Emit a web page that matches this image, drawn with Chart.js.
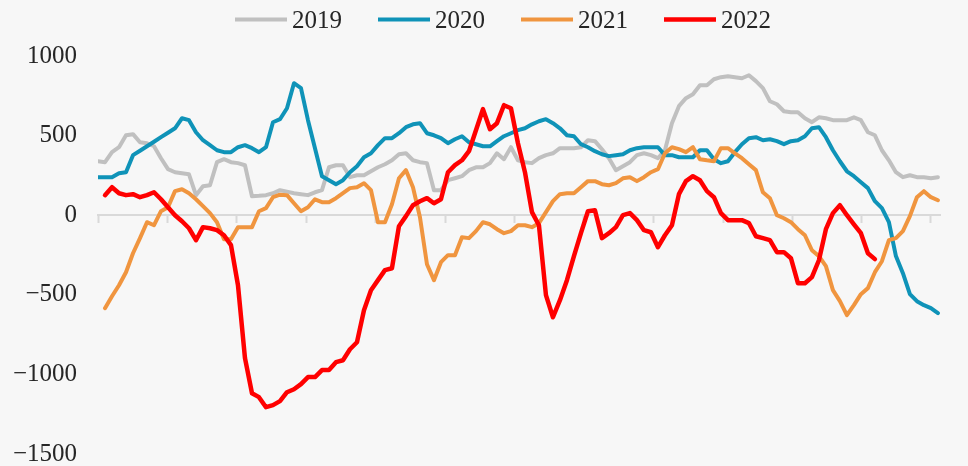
<!DOCTYPE html>
<html>
<head>
<meta charset="utf-8">
<script src="https://cdn.jsdelivr.net/npm/chart.js@4.4.1/dist/chart.umd.min.js"></script>
<style>
  html, body { margin: 0; padding: 0; background: #f7f7f7; overflow: hidden; }
  canvas { display: block; }
</style>
</head>
<body>
<canvas id="chart" width="968" height="466"></canvas>
<script>
// year series, sampled at regular intervals through the year
const years = ['2019', '2020', '2021', '2022'];
const colors = ['#c0c0c0', '#0f93b8', '#f0953f', '#ff0000'];
const widths = [4, 4, 4, 4.5];

// month boundaries, in sample units
const monthTicks = [0, 9.9, 19.8, 29.8, 39.7, 49.6, 59.5, 69.4, 79.3, 89.3, 99.2, 109.1, 119];

const v2019 = [339, 333, 396, 427, 502, 509, 458, 452, 433, 358,
  289, 270, 264, 257, 126, 182, 188, 333, 352, 333,
  327, 314, 119, 122, 126, 138, 157, 148, 138, 132,
  126, 144, 157, 301, 314, 314, 239, 251, 251, 276,
  301, 320, 345, 383, 389, 345, 333, 327, 157, 157,
  220, 232, 245, 283, 301, 301, 327, 389, 352, 427,
  345, 333, 327, 358, 377, 389, 421, 421, 421, 427,
  471, 465, 414, 358, 283, 308, 333, 377, 389, 377,
  358, 408, 578, 685, 735, 760, 816, 816, 854, 867,
  873, 867, 860, 879, 842, 798, 716, 697, 653, 647,
  647, 609, 584, 615, 609, 597, 597, 597, 615, 597,
  521, 502, 408, 345, 270, 239, 251, 239, 239, 232,
  239];

const v2020 = [239, 239, 239, 264, 270, 377, 405, 433, 461, 490,
  518, 546, 609, 597, 521, 471, 440, 408, 396, 396,
  427, 440, 421, 396, 427, 584, 603, 672, 829, 798,
  597, 421, 245, 220, 195, 220, 270, 308, 364, 389,
  440, 484, 484, 515, 553, 571, 578, 515, 502, 484,
  452, 477, 496, 458, 446, 433, 433, 465, 496, 515,
  534, 546, 571, 590, 603, 578, 546, 502, 496, 446,
  427, 402, 383, 371, 377, 383, 408, 421, 427, 427,
  427, 377, 377, 364, 364, 364, 408, 408, 352, 327,
  339, 396, 446, 484, 490, 471, 477, 465, 446, 465,
  471, 496, 546, 553, 490, 408, 339, 276, 245, 207,
  170, 88, 44, -44, -257, -364, -496, -540, -565, -584,
  -615];

const v2021 = [null, -584, -509, -440, -358, -239, -144, -44, -63, 25,
  50, 151, 163, 138, 100, 57, 13, -44, -151, -151,
  -75, -75, -75, 25, 44, 113, 129, 126, 75, 25,
  50, 100, 82, 82, 107, 138, 170, 176, 201, 157,
  -44, -44, 69, 232, 283, 176, -13, -308, -408, -295,
  -251, -251, -138, -144, -100, -44, -57, -88, -113, -100,
  -63, -63, -75, -50, 19, 88, 132, 138, 138, 176,
  214, 214, 195, 188, 201, 232, 239, 214, 239, 270,
  289, 389, 427, 415, 396, 427, 352, 345, 339, 421,
  421, 389, 358, 320, 283, 144, 107, 0, -19, -44,
  -88, -126, -220, -257, -320, -471, -540, -628, -565, -496,
  -458, -358, -289, -157, -144, -100, -6, 113, 151, 113,
  94];

const v2022 = [null, 126, 176, 138, 126, 132, 113, 126, 144, 100,
  50, 0, -38, -82, -157, -75, -82, -94, -126, -188,
  -440, -898, -1118, -1143, -1206, -1193, -1168, -1112, -1093, -1061,
  -1017, -1017, -973, -973, -923, -911, -842, -798, -597, -471,
  -408, -345, -333, -69, -6, 63, 88, 107, 75, 100,
  270, 314, 345, 402, 534, 666, 540, 578, 691, 672,
  452, 270, 19, -63, -502, -641, -534, -408, -257, -113,
  25, 31, -144, -113, -75, 0, 13, -31, -94, -107,
  -201, -126, -63, 132, 214, 245, 220, 151, 113, 13,
  -31, -31, -31, -50, -132, -144, -157, -232, -232, -270,
  -427, -427, -389, -283, -88, 13, 63, 0, -57, -113,
  -239, -276];

const series = [v2019, v2020, v2021, v2022];

const FONT = '"Liberation Serif", "Times New Roman", serif';

// legend drawn as a single centred row of line swatches above the plot
const lineLegend = {
  id: 'lineLegend',
  afterDraw(chart) {
    const ctx = chart.ctx;
    ctx.save();
    ctx.font = '25px ' + FONT;
    ctx.textBaseline = 'middle';
    const boxW = 52, gapText = 5, gapItem = 36;
    const textW = years.map(t => ctx.measureText(t).width);
    const total = textW.reduce((s, w) => s + boxW + gapText + w, 0) + gapItem * (years.length - 1);
    let x = 503 - total / 2;
    years.forEach((label, i) => {
      const h = widths[i];
      ctx.fillStyle = colors[i];
      ctx.fillRect(x, 19.5 - h / 2, boxW, h);
      x += boxW + gapText;
      ctx.fillStyle = '#262626';
      ctx.fillText(label, x, 21);
      x += textW[i] + gapItem;
    });
    ctx.restore();
  }
};

const datasets = years.map((label, i) => ({
  label,
  data: series[i].map((v, k) => ({ x: k, y: v })),
  borderColor: colors[i],
  backgroundColor: colors[i],
  borderWidth: widths[i],
  pointRadius: 0,
  tension: 0,
  borderJoinStyle: 'round',
  borderCapStyle: 'round',
  spanGaps: false,
  order: years.length - 1 - i
}));

new Chart(document.getElementById('chart'), {
  type: 'line',
  data: { datasets },
  plugins: [lineLegend],
  options: {
    responsive: false,
    animation: false,
    layout: { padding: { top: 56, bottom: 12, left: 0, right: 28 } },
    plugins: {
      legend: { display: false },
      tooltip: { enabled: false }
    },
    scales: {
      x: {
        type: 'linear',
        min: 0,
        max: 120.3,
        position: { y: 0 },
        afterBuildTicks: scale => {
          scale.ticks = monthTicks.map(v => ({ value: v }));
        },
        ticks: { display: false },
        grid: {
          drawOnChartArea: false,
          drawTicks: true,
          tickLength: 7,
          tickColor: '#d9d9d9',
          tickWidth: 2
        },
        border: { display: true, color: '#d9d9d9', width: 2 }
      },
      y: {
        min: -1500,
        max: 1000,
        // fixed axis width; the outer padding keeps the end labels in view
        afterFit: scale => {
          scale.width = 98;
          scale.paddingTop = 0;
          scale.paddingBottom = 0;
        },
        ticks: {
          stepSize: 500,
          padding: 21,
          color: '#262626',
          font: { family: FONT, size: 25, lineHeight: 0.9 },
          // plain integers, typographic minus
          callback: v => (v < 0 ? '\u2212' + Math.abs(v) : String(v))
        },
        grid: { display: false, drawTicks: false },
        border: { display: false }
      }
    }
  }
});
</script>
</body>
</html>
